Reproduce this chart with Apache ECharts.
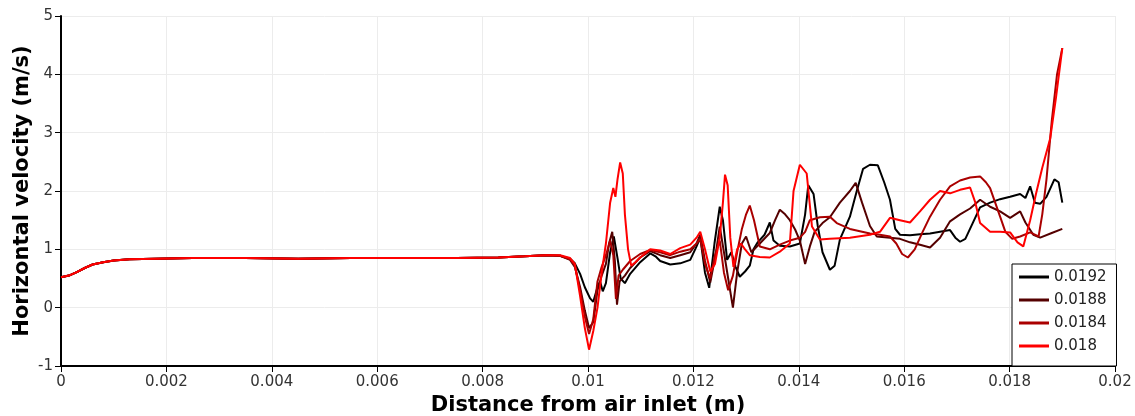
<!DOCTYPE html>
<html><head><meta charset="utf-8">
<script src="https://cdn.jsdelivr.net/npm/echarts@6/dist/echarts.min.js"></script>
<style>html,body{margin:0;padding:0;background:#fff}#c{width:1135px;height:416px}</style>
</head><body><div id="c"></div>
<script>
const seriesNames = ['0.0192', '0.0188', '0.0184', '0.018'];
const seriesColors = ['#000000', '#550000', '#aa0000', '#ff0000'];

// shared inlet profile (all four curves coincide here)
const inletProfile = [[0,0.52],[0.00015,0.55],[0.0003,0.61],[0.00045,0.68],[0.0006,0.74],[0.0008,0.78],[0.001,0.81],[0.0013,0.83],[0.0018,0.84],[0.0025,0.85],[0.0035,0.85],[0.0045,0.84],[0.0055,0.85],[0.0065,0.85],[0.0075,0.85],[0.0083,0.86],[0.0088,0.88],[0.0092,0.9]];

const tail0192 = [[0.00947,0.89],[0.00966,0.84],[0.00975,0.76],[0.00985,0.58],[0.00994,0.35],[0.01004,0.16],[0.0101,0.1],[0.01018,0.35],[0.01023,0.45],[0.01028,0.28],[0.01034,0.42],[0.01042,0.95],[0.01049,1.22],[0.01056,0.85],[0.01062,0.5],[0.0107,0.42],[0.0108,0.58],[0.01099,0.78],[0.01118,0.93],[0.01128,0.88],[0.01137,0.8],[0.01156,0.74],[0.01175,0.76],[0.01194,0.82],[0.01206,1.05],[0.01213,1.2],[0.01222,0.6],[0.0123,0.34],[0.0124,1.1],[0.0125,1.73],[0.01256,1.5],[0.01264,0.82],[0.01272,0.95],[0.0128,0.7],[0.01288,0.53],[0.01298,0.62],[0.01307,0.72],[0.01314,1.0],[0.01322,1.12],[0.01335,1.25],[0.01345,1.46],[0.01352,1.15],[0.01364,1.06],[0.01383,1.05],[0.01402,1.1],[0.01412,1.6],[0.01418,2.1],[0.01428,1.95],[0.01436,1.4],[0.01445,0.95],[0.01459,0.65],[0.01468,0.72],[0.01478,1.17],[0.01497,1.56],[0.0151,2.0],[0.01522,2.38],[0.01535,2.45],[0.0155,2.44],[0.01562,2.15],[0.01573,1.85],[0.01583,1.35],[0.01592,1.25],[0.01611,1.24],[0.0163,1.26],[0.01649,1.27],[0.01668,1.3],[0.01687,1.33],[0.01697,1.2],[0.01706,1.13],[0.01716,1.18],[0.0173,1.45],[0.01744,1.72],[0.01763,1.8],[0.01782,1.86],[0.01801,1.9],[0.0182,1.95],[0.0183,1.88],[0.01839,2.08],[0.01848,1.8],[0.01858,1.78],[0.0187,1.9],[0.01885,2.2],[0.01893,2.15],[0.019,1.8]];

const tail0188 = [[0.00947,0.89],[0.00966,0.82],[0.00975,0.7],[0.00985,0.35],[0.00994,-0.05],[0.01002,-0.35],[0.0101,-0.25],[0.01018,0.3],[0.01026,0.55],[0.01034,0.75],[0.0104,1.1],[0.01046,1.3],[0.01051,0.8],[0.01055,0.05],[0.0106,0.45],[0.0107,0.55],[0.0108,0.68],[0.01099,0.86],[0.01118,0.97],[0.01137,0.9],[0.01156,0.85],[0.01175,0.9],[0.01194,0.95],[0.01206,1.1],[0.01213,1.25],[0.01222,0.8],[0.01232,0.43],[0.01242,0.9],[0.0125,1.39],[0.01258,0.95],[0.01266,0.5],[0.01275,0.0],[0.01283,0.6],[0.01292,1.1],[0.013,1.22],[0.0131,0.95],[0.01326,1.1],[0.01345,1.28],[0.01355,1.5],[0.01364,1.68],[0.01374,1.6],[0.01383,1.5],[0.01393,1.34],[0.01402,1.15],[0.01412,0.75],[0.01421,1.05],[0.0143,1.3],[0.01445,1.45],[0.01459,1.55],[0.01478,1.8],[0.01497,2.0],[0.01508,2.14],[0.0152,1.8],[0.01535,1.4],[0.01548,1.22],[0.01573,1.2],[0.01592,1.18],[0.01611,1.12],[0.0163,1.08],[0.01649,1.03],[0.01668,1.2],[0.01687,1.48],[0.01706,1.6],[0.01725,1.7],[0.01744,1.85],[0.01763,1.73],[0.01782,1.65],[0.01801,1.54],[0.0182,1.65],[0.0183,1.46],[0.01845,1.25],[0.01858,1.2],[0.0188,1.28],[0.019,1.35]];

const tail0184 = [[0.00947,0.89],[0.00966,0.83],[0.00975,0.72],[0.00985,0.3],[0.00994,-0.15],[0.01002,-0.45],[0.0101,-0.2],[0.01018,0.45],[0.01026,0.7],[0.01034,0.9],[0.01042,1.15],[0.01048,0.9],[0.01053,0.15],[0.01058,0.55],[0.01066,0.65],[0.0108,0.8],[0.01099,0.92],[0.01118,0.99],[0.01137,0.95],[0.01156,0.9],[0.01175,0.96],[0.01194,1.0],[0.01206,1.1],[0.01213,1.18],[0.01222,0.75],[0.01232,0.5],[0.01241,0.9],[0.0125,1.15],[0.01258,0.6],[0.01266,0.3],[0.01275,0.55],[0.01283,0.95],[0.01292,1.35],[0.013,1.6],[0.01307,1.75],[0.01315,1.5],[0.01326,1.05],[0.01345,1.0],[0.01364,1.08],[0.01383,1.15],[0.01402,1.2],[0.01412,1.3],[0.01421,1.5],[0.0144,1.55],[0.01459,1.56],[0.01472,1.45],[0.01497,1.35],[0.01535,1.27],[0.01554,1.25],[0.01573,1.22],[0.01585,1.1],[0.01596,0.92],[0.01607,0.86],[0.0162,1.0],[0.01635,1.3],[0.01649,1.56],[0.01668,1.85],[0.01687,2.08],[0.01706,2.18],[0.01725,2.23],[0.01744,2.25],[0.01755,2.15],[0.01763,2.05],[0.01782,1.56],[0.01792,1.3],[0.01805,1.18],[0.0182,1.22],[0.01839,1.29],[0.01855,1.22],[0.01862,1.6],[0.0187,2.2],[0.0188,3.2],[0.0189,4.0],[0.019,4.45]];

const tail018 = [[0.00947,0.9],[0.00966,0.85],[0.00975,0.75],[0.00985,0.2],[0.00994,-0.35],[0.01002,-0.72],[0.0101,-0.4],[0.01018,0.0],[0.01026,0.6],[0.01034,1.1],[0.01042,1.8],[0.01048,2.05],[0.01052,1.9],[0.01056,2.2],[0.01061,2.49],[0.01066,2.3],[0.0107,1.6],[0.01076,1.0],[0.01082,0.72],[0.0109,0.78],[0.01099,0.86],[0.01118,1.0],[0.01137,0.98],[0.01156,0.92],[0.01175,1.02],[0.01194,1.08],[0.01206,1.2],[0.01213,1.3],[0.01222,1.0],[0.01232,0.62],[0.01241,0.75],[0.0125,1.2],[0.01256,1.8],[0.0126,2.28],[0.01265,2.1],[0.0127,1.2],[0.01276,0.7],[0.01283,1.0],[0.0129,1.1],[0.01298,1.0],[0.01307,0.9],[0.01326,0.87],[0.01345,0.86],[0.01364,0.96],[0.01383,1.1],[0.0139,2.0],[0.01402,2.45],[0.01415,2.3],[0.01425,1.39],[0.0144,1.17],[0.01459,1.18],[0.01497,1.2],[0.01535,1.25],[0.01554,1.3],[0.01573,1.54],[0.01592,1.5],[0.01611,1.46],[0.0163,1.65],[0.01649,1.85],[0.01668,2.0],[0.01687,1.96],[0.01706,2.02],[0.01725,2.06],[0.01735,1.8],[0.01744,1.45],[0.01763,1.3],[0.01782,1.3],[0.01801,1.29],[0.01815,1.12],[0.01826,1.05],[0.01839,1.5],[0.0185,1.95],[0.01862,2.4],[0.01877,2.9],[0.01888,3.6],[0.019,4.45]];

const tails = [tail0192, tail0188, tail0184, tail018];

const xAxisTitle = 'Distance from air inlet (m)';
const yAxisTitle = 'Horizontal velocity (m/s)';
const FONT = 'DejaVu Sans, sans-serif';

const chart = echarts.init(document.getElementById('c'), null, {renderer: 'canvas'});
chart.setOption({
  animation: false,
  backgroundColor: '#ffffff',
  grid: {left: 61, right: 20, top: 16, bottom: 50, containLabel: false, outerBoundsMode: 'none'},
  legend: {
    orient: 'vertical',
    left: 1012, top: 264,
    padding: [5, 10, 12, 7],
    itemGap: 7,
    itemWidth: 30, itemHeight: 3,
    icon: 'rect',
    borderColor: '#000', borderWidth: 1, backgroundColor: '#fff',
    textStyle: {fontSize: 15, color: '#222', fontFamily: FONT, lineHeight: 16},
    data: seriesNames
  },
  xAxis: {
    type: 'value', min: 0, max: 0.02, interval: 0.002,
    axisLine: {show: true, onZero: false, lineStyle: {color: '#000', width: 2}},
    axisTick: {show: true, length: 6, lineStyle: {color: '#000', width: 1}},
    axisLabel: {fontSize: 15, color: '#333', fontFamily: FONT, margin: 9,
      formatter: v => String(+v.toFixed(4))},
    splitLine: {show: true, lineStyle: {color: '#ececec', width: 1}},
    name: xAxisTitle, nameLocation: 'middle', nameGap: 28,
    nameTextStyle: {fontSize: 21, fontWeight: 'bold', color: '#000', fontFamily: FONT}
  },
  yAxis: {
    type: 'value', min: -1, max: 5, interval: 1,
    axisLine: {show: true, onZero: false, lineStyle: {color: '#000', width: 2}},
    axisTick: {show: true, length: 6, lineStyle: {color: '#000', width: 1}},
    axisLabel: {fontSize: 15, color: '#333', fontFamily: FONT, margin: 8},
    splitLine: {show: true, lineStyle: {color: '#ececec', width: 1}},
    name: yAxisTitle, nameLocation: 'middle', nameGap: 28, nameRotate: 90,
    nameMoveOverlap: false,
    nameTextStyle: {fontSize: 21, fontWeight: 'bold', color: '#000', fontFamily: FONT}
  },
  series: seriesNames.map((n, i) => ({
    name: n, type: 'line', showSymbol: false, symbol: 'none',
    data: inletProfile.concat(tails[i]),
    lineStyle: {color: seriesColors[i], width: 2},
    itemStyle: {color: seriesColors[i]},
    z: 2 + i
  }))
});
</script></body></html>
